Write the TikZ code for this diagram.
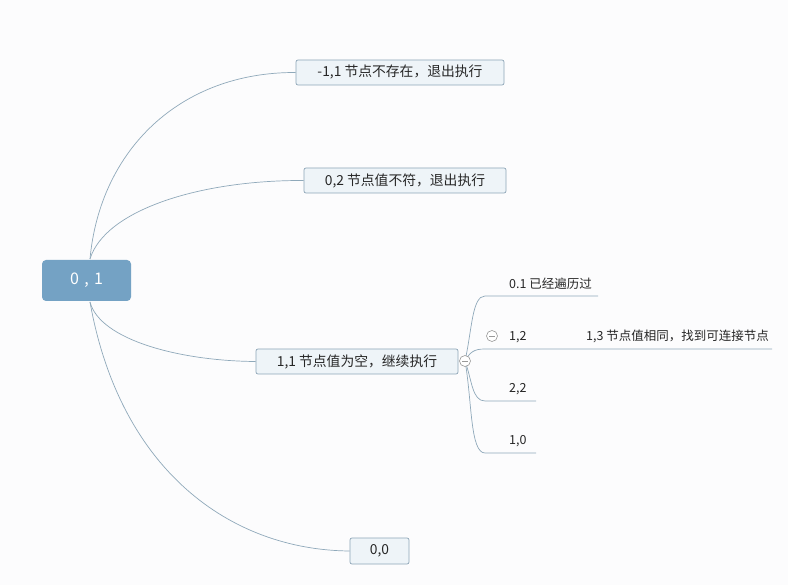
\documentclass[tikz,border=0pt]{standalone}
\usepackage{fontspec}
\setmainfont{Noto Sans CJK SC}
\begin{document}
\begin{tikzpicture}[x=1pt,y=-1pt,
  edge/.style={draw=edgec, line width=0.7pt},
  topic/.style={draw=boxd, fill=boxf, rounded corners=2pt, line width=0.7pt, inner sep=0pt, font=\fontsize{13.8}{15}\selectfont, text=black!85},
  sub/.style={inner sep=0pt, font=\fontsize{12.5}{14}\selectfont, text=black!85, anchor=base west},
  fold/.style={circle, draw=gray!80, fill=white, line width=0.6pt, minimum size=11pt, inner sep=0pt}]
\definecolor{edgec}{HTML}{8FA9BA}
\definecolor{boxd}{HTML}{8DA5B7}
\definecolor{boxf}{HTML}{EEF4F8}
\definecolor{rootf}{HTML}{74A2C4}
\definecolor{bg}{HTML}{FCFCFD}
\fill[bg] (0,0) rectangle (788,585);
\useasboundingbox (0,0) rectangle (788,585);
% root
\node[fill=rootf, rounded corners=4pt, minimum width=89pt, minimum height=41pt, inner sep=0pt, text=white, font=\fontsize{16}{18}\selectfont] (root) at (86.5,280.5) {0\,\,,\,\,1};
\coordinate (rt) at (90,259);
\coordinate (rb) at (90,302);
% topics
\node[topic, minimum width=208pt, minimum height=25pt] (a) at (400,72.5) {-1,1 节点不存在，退出执行};
\node[topic, minimum width=202pt, minimum height=25pt] (b) at (405,180.5) {0,2 节点值不符，退出执行};
\node[topic, minimum width=202pt, minimum height=25pt] (c) at (357,361.5) {1,1 节点值为空，继续执行};
\node[topic, minimum width=59pt, minimum height=26pt] (d) at (379.5,551) {0,0};
% root edges
\draw[edge] (rt) .. controls (100,150) and (180,72) .. (a.west);
\draw[edge] (rt) .. controls (105,210) and (200,180) .. (b.west);
\draw[edge] (rb) .. controls (100,340) and (180,361) .. (c.west);
\draw[edge] (rb) .. controls (120,470) and (230,550) .. (d.west);
% fold circle of c
\coordinate (cf) at (465,361);
% children
\coordinate (s1) at (485,296); \coordinate (e1) at (598,296);
\coordinate (s2) at (485,349); \coordinate (e2) at (560,349); \coordinate (e2b) at (772,349);
\coordinate (s3) at (485,401); \coordinate (e3) at (536,401);
\coordinate (s4) at (485,453); \coordinate (e4) at (536,453);
\draw[edge] (cf) .. controls (472,330) and (472,296) .. (s1) -- (e1);
\draw[edge] (cf) .. controls (470,352) and (474,349) .. (s2) -- (e2) -- (e2b);
\draw[edge] (cf) .. controls (472,380) and (472,401) .. (s3) -- (e3);
\draw[edge] (cf) .. controls (472,400) and (470,453) .. (s4) -- (e4);
\node[fold] (cfc) at (cf) {};
\draw[gray!80, line width=0.6pt] ([xshift=-3pt]cfc.center) -- ([xshift=3pt]cfc.center);
\node[fold] (f2) at (492,336) {};
\draw[gray!80, line width=0.6pt] ([xshift=-3pt]f2.center) -- ([xshift=3pt]f2.center);
% child labels
\node[sub] (t1) at (509,289) {0.1 已经遍历过};
\node[sub] (t2) at (509,341) {1,2};
\node[sub] (t5) at (586,341) {1,3 节点值相同，找到可连接节点};
\node[sub] (t3) at (509,393) {2,2};
\node[sub] (t4) at (509,445) {1,0};
\end{tikzpicture}
\end{document}
